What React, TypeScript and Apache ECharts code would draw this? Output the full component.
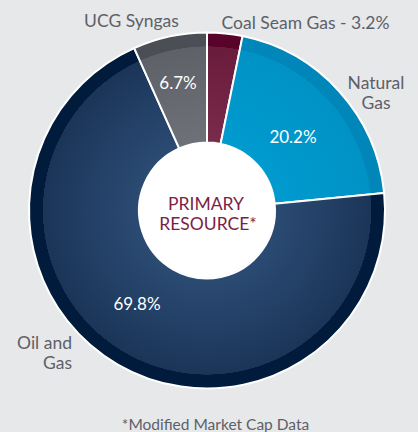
import React, { useEffect, useRef } from "react";
import * as echarts from "echarts";

const categories = ["Coal Seam Gas", "Natural Gas", "Oil and Gas", "UCG Syngas"];
const values = [3.2, 20.2, 69.8, 6.7];
const nameLabels = ["Coal Seam Gas - 3.2%", "Natural\nGas", "Oil and\nGas", "UCG Syngas"];
const showInnerPct = [false, true, true, true];
const centerLines = ["PRIMARY", "RESOURCE*"];
const footnote = "*Modified Market Cap Data";

// [center-side color, rim-side color of inner band, outer rim color]
const palette = [
  ["#7a2a4a", "#6a1c3c", "#58042a"],
  ["#009bcf", "#0092c5", "#0086b9"],
  ["#2b4b73", "#1b3558", "#011b3d"],
  ["#6e7178", "#5e6168", "#4b4e55"],
];

const CX = 207;
const CY = 210.5;
const R_OUT = 178;
const R_IN = 68;
const R_RIM = 164;

const innerPos = [
  [0, 0],
  [293, 136],
  [137, 303],
  [178, 82],
];
const namePos: [number, number, string][] = [
  [305.5, 22, "center"],
  [376, 92, "center"],
  [72, 352, "right"],
  [131.5, 20, "center"],
];

export default function App() {
  const ref = useRef<HTMLDivElement>(null);
  useEffect(() => {
    if (!ref.current) return;
    const chart = echarts.init(ref.current, undefined, { renderer: "svg" });
    const font = "Lato, 'Open Sans', sans-serif";
    const data = categories.map((c, i) => ({
      name: c,
      value: values[i],
      itemStyle: {
        color: {
          type: "radial",
          x: CX,
          y: CY,
          r: R_OUT,
          global: true,
          colorStops: [
            { offset: 0, color: palette[i][0] },
            { offset: R_IN / R_OUT, color: palette[i][0] },
            { offset: R_RIM / R_OUT, color: palette[i][1] },
            { offset: R_RIM / R_OUT + 0.001, color: palette[i][2] },
            { offset: 1, color: palette[i][2] },
          ],
        },
      },
    }));
    const nameData = categories.map((c, i) => ({
      name: c,
      value: values[i],
      label: { align: namePos[i][2] as any },
    }));
    chart.setOption({
      animation: false,
      backgroundColor: "#e7e8ea",
      graphic: [
        {
          type: "circle",
          shape: { cx: CX - 1, cy: CY - 2, r: R_IN + 1 },
          style: { fill: "#ffffff" },
          z: 0,
        },
        {
          type: "text",
          x: CX - 1,
          y: CY - 7,
          style: {
            text: centerLines[0],
            fill: "#7b1f47",
            font: `17.5px ${font}`,
            textAlign: "center",
            textVerticalAlign: "middle",
          },
          z: 10,
        },
        {
          type: "text",
          x: CX + 1,
          y: CY + 13,
          style: {
            text: centerLines[1],
            fill: "#7b1f47",
            font: `17.5px ${font}`,
            textAlign: "center",
            textVerticalAlign: "middle",
          },
          z: 10,
        },
        {
          type: "text",
          x: 215.5,
          y: 424,
          style: {
            text: footnote,
            fill: "#5d6068",
            font: `15.5px ${font}`,
            textAlign: "center",
            textVerticalAlign: "middle",
          },
        },
      ],
      series: [
        {
          type: "pie",
          center: [CX, CY],
          radius: [R_IN, R_OUT],
          startAngle: 90,
          clockwise: true,
          avoidLabelOverlap: false,
          itemStyle: { borderColor: "#ffffff", borderWidth: 2 },
          label: {
            show: true,
            position: "inside",
            color: "#ffffff",
            fontFamily: font,
            fontSize: 17,
            formatter: (p: any) => (showInnerPct[p.dataIndex] ? `${p.value}%` : ""),
          },
          labelLine: { show: false },
          labelLayout: (p: any) => ({
            x: innerPos[p.dataIndex][0],
            y: innerPos[p.dataIndex][1],
            align: "center",
            verticalAlign: "middle",
          }),
          emphasis: { disabled: true },
          data,
        },
        {
          type: "pie",
          center: [CX, CY],
          radius: [R_IN, R_OUT],
          startAngle: 90,
          clockwise: true,
          silent: true,
          avoidLabelOverlap: false,
          itemStyle: { color: "rgba(0,0,0,0)", borderWidth: 0 },
          label: {
            show: true,
            position: "inside",
            color: "#5d6068",
            fontFamily: font,
            fontSize: 17.5,
            lineHeight: 20,
            formatter: (p: any) => nameLabels[p.dataIndex],
          },
          labelLine: { show: false },
          labelLayout: (p: any) => ({
            x: namePos[p.dataIndex][0],
            y: namePos[p.dataIndex][1],
            align: namePos[p.dataIndex][2],
            verticalAlign: "middle",
          }),
          emphasis: { disabled: true },
          data: nameData,
        },
      ],
    });
    return () => chart.dispose();
  }, []);
  return <div ref={ref} style={{ position: "fixed", left: 0, top: 0, width: 418, height: 432 }} />;
}
